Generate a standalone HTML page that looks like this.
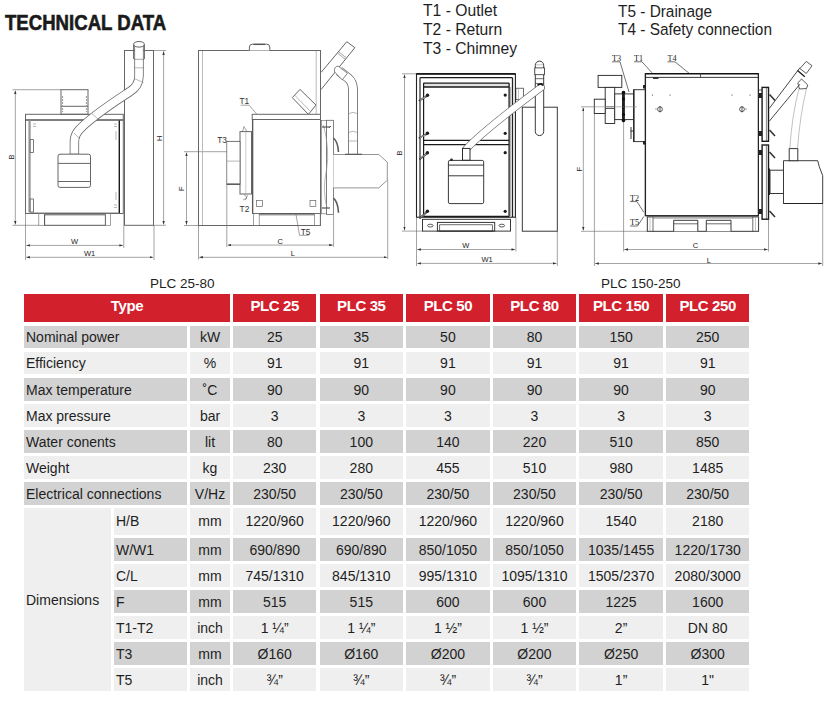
<!DOCTYPE html>
<html><head><meta charset="utf-8">
<style>
*{margin:0;padding:0;box-sizing:border-box}
html,body{width:828px;height:701px;background:#fff;overflow:hidden}
body{position:relative;font-family:"Liberation Sans",sans-serif;color:#1e1e1e}
.a{position:absolute;white-space:nowrap}
.c{position:absolute;font-size:14px;line-height:22px;text-align:center;white-space:nowrap}
.d{background:#d2d2d2}
.l{background:#efefef}
.h{position:absolute;background:#d3202d;color:#fff;font-weight:bold;font-size:15px;letter-spacing:-0.4px;text-align:center;line-height:24.4px;top:294px;height:28px}
.lbl{text-align:left;padding-left:2px}
#draw{position:absolute;left:0;top:0}
</style></head><body>

<div class="a" id="title" style="left:4.8px;top:9.8px;font-size:21.3px;font-weight:bold;line-height:26px;transform:scaleX(0.873);transform-origin:0 0;color:#1a1a1a;-webkit-text-stroke:0.6px #1a1a1a">TECHNICAL DATA</div>

<div class="a" style="left:423.3px;top:1.1px;font-size:16.5px;line-height:19.15px;transform:scaleX(0.95);transform-origin:0 0">T1 - Outlet<br>T2 - Return<br>T3 - Chimney</div>
<div class="a" style="left:618px;top:1.7px;font-size:16.3px;line-height:18px;transform:scaleX(0.945);transform-origin:0 0">T5 - Drainage<br>T4 - Safety connection</div>

<div class="a" style="left:150px;top:276px;font-size:13.5px;line-height:16px">PLC 25-80</div>
<div class="a" style="left:601px;top:276px;font-size:13.5px;line-height:16px">PLC 150-250</div>

<svg id="draw" width="828" height="275" viewBox="0 0 828 275" style="position:absolute;left:0;top:0">
<defs>
<marker id="ar" viewBox="0 0 6 4" refX="6" refY="2" markerWidth="3.6" markerHeight="2.4" markerUnits="userSpaceOnUse" orient="auto-start-reverse"><path d="M0,0 L6,2 L0,4z" fill="#333"/></marker>
</defs>
<g fill="none" stroke="#2e2e2e" stroke-width="0.95" font-family="Liberation Sans, sans-serif">

<g stroke="#666" stroke-width="1">
<!-- ===== DRAWING 1: front PLC 25-80 ===== -->
<!-- dimension lines -->
<g stroke="#666" stroke-width="0.6">
<line x1="12.5" y1="89.7" x2="61" y2="89.7"/>
<line x1="12.5" y1="225.3" x2="39" y2="225.3"/>
<line x1="15.3" y1="90.5" x2="15.3" y2="224.5" marker-start="url(#ar)" marker-end="url(#ar)"/>
<line x1="154" y1="50.5" x2="166" y2="50.5"/>
<line x1="153" y1="225.3" x2="166" y2="225.3"/>
<line x1="163.6" y1="51.3" x2="163.6" y2="224.5" marker-start="url(#ar)" marker-end="url(#ar)"/>
<line x1="25.5" y1="213.5" x2="25.5" y2="260"/>
<line x1="123.8" y1="213.5" x2="123.8" y2="248"/>
<line x1="154" y1="225.3" x2="154" y2="260"/>
<line x1="26.3" y1="245.4" x2="123" y2="245.4" marker-start="url(#ar)" marker-end="url(#ar)"/>
<line x1="26.3" y1="257.3" x2="153.2" y2="257.3" marker-start="url(#ar)" marker-end="url(#ar)"/>
</g>
<g fill="#222" stroke="none" font-size="7.5px">
<text x="71" y="243.6">W</text>
<text x="84" y="255.6">W1</text>
<text transform="translate(14,159.5) rotate(-90)">B</text>
<text transform="translate(161.5,141) rotate(-90)">H</text>
</g>
<!-- hopper lid on top -->
<rect x="61" y="89.7" width="27" height="24.6"/>
<line x1="61" y1="106.3" x2="88" y2="106.3"/>
<line x1="62.6" y1="96" x2="62.6" y2="112" stroke="#999" stroke-dasharray="2 1"/>
<line x1="86.4" y1="96" x2="86.4" y2="112" stroke="#999" stroke-dasharray="2 1"/>
<!-- column -->
<rect x="124.5" y="50.5" width="29" height="174.8"/>
<!-- body -->
<rect x="25.5" y="114.3" width="97.8" height="99.2"/>
<line x1="25.5" y1="120" x2="123.3" y2="120" stroke-width="1.5" stroke="#555"/>
<rect x="28.4" y="120.5" width="2.3" height="92" fill="#9a9a9a" stroke="none"/>
<line x1="119.3" y1="120.5" x2="119.3" y2="213" stroke-width="1.4" stroke="#1a1a1a"/>
<line x1="30.8" y1="212.6" x2="119" y2="212.6" stroke="#888" stroke-width="0.6"/>
<rect x="30.2" y="139.6" width="3.3" height="12.8" fill="#fff" stroke="#5a5a5a" stroke-width="0.8"/>
<rect x="30.2" y="199" width="3.3" height="13" fill="#fff" stroke="#5a5a5a" stroke-width="0.8"/>
<g stroke="#888" stroke-width="0.6">
<line x1="33" y1="124" x2="36" y2="124"/><line x1="33" y1="126.5" x2="36" y2="126.5"/>
<line x1="114" y1="124" x2="117" y2="124"/><line x1="114" y1="126.5" x2="117" y2="126.5"/>
<line x1="114" y1="205" x2="117" y2="205"/><line x1="114" y1="207.5" x2="117" y2="207.5"/>
<line x1="116" y1="131" x2="116" y2="140"/><line x1="116" y1="192" x2="116" y2="200"/>
</g>
<!-- feet / base -->
<rect x="38.8" y="213.5" width="5.6" height="11.8" stroke="#777" stroke-width="0.7"/>
<rect x="44.6" y="214.8" width="60.8" height="10.5" stroke="#555"/>
<rect x="105.4" y="213.5" width="5.2" height="11.8" stroke="#777" stroke-width="0.7"/>
<!-- burner box -->
<rect x="58" y="154.2" width="32.5" height="33.2" rx="2" fill="#fff"/>
<line x1="58" y1="163.4" x2="90.5" y2="163.4"/>
<line x1="58" y1="181.5" x2="90.5" y2="181.5"/>
<!-- pipe -->
<path d="M139,46 L139,76 Q139,86 130,91.5 C115,101.5 92,116 79,130 Q74.4,135 74.4,142 L74.4,154" stroke="#666" stroke-width="9.4"/>
<path d="M139,46 L139,76 Q139,86 130,91.5 C115,101.5 92,116 79,130 Q74.4,135 74.4,142 L74.4,153.4" stroke="#fff" stroke-width="7.8"/>
<line x1="133.8" y1="59.3" x2="144.2" y2="59.3" stroke="#666" stroke-width="0.6"/>
<line x1="133.8" y1="67.8" x2="144.2" y2="67.8" stroke="#888" stroke-width="0.6"/>
<line x1="134" y1="78.5" x2="143.5" y2="82.5" stroke="#888" stroke-width="0.6"/>
<line x1="74" y1="133" x2="80" y2="139" stroke="#888" stroke-width="0.6"/>
<line x1="91.6" y1="113.4" x2="98" y2="119" stroke="#888" stroke-width="0.6"/>
<ellipse cx="139" cy="44.3" rx="5.4" ry="2.8" fill="#fff"/>
<path d="M133.6,44.3 L133.6,59 M144.4,44.3 L144.4,59"/>

<!-- ===== DRAWING 2: side PLC 25-80 ===== -->
<g stroke="#666" stroke-width="0.6">
<line x1="184" y1="151.7" x2="241" y2="151.7"/>
<line x1="184" y1="225.5" x2="199" y2="225.5"/>
<line x1="186.5" y1="152.5" x2="186.5" y2="224.7" marker-start="url(#ar)" marker-end="url(#ar)"/>
<line x1="198.5" y1="225.5" x2="198.5" y2="259.5"/>
<line x1="226.8" y1="184" x2="226.8" y2="247"/>
<line x1="333.6" y1="214.5" x2="333.6" y2="247"/>
<line x1="387.7" y1="180" x2="387.7" y2="259"/>
<line x1="227.6" y1="245.1" x2="332.8" y2="245.1" marker-start="url(#ar)" marker-end="url(#ar)"/>
<line x1="199.3" y1="257.3" x2="387.2" y2="257.3" marker-start="url(#ar)" marker-end="url(#ar)"/>
<path d="M226.8,141.4 L240,141.4"/>
<path d="M240.7,105.2 L249.2,105.2 L256.8,114.2"/>
<path d="M245.5,200 L247.5,195"/>
<path d="M296,214.5 L299.5,235.3 L308.6,235.3"/>
</g>
<g fill="#222" stroke="none" font-size="7.5px">
<text x="277.5" y="243.8">C</text>
<text x="290.8" y="255.8">L</text>
<g font-size="8.3px" fill="#333"><text x="239.4" y="104.2">T1</text>
<text x="217.2" y="142.8">T3</text>
<text x="239.6" y="212">T2</text>
<text x="300.8" y="235.2">T5</text></g>
<text transform="translate(184.3,191) rotate(-90)">F</text>
</g>
<!-- hopper -->
<rect x="198.5" y="50.5" width="122" height="175"/>
<line x1="202.5" y1="51" x2="202.5" y2="225" stroke="#aaa" stroke-width="0.8"/>
<line x1="316.2" y1="51" x2="316.2" y2="114" stroke="#aaa" stroke-width="0.8"/>
<path d="M249.4,50.5 L249.4,47 Q249.4,44.2 252.5,44.2 L266.6,44.2 Q269.8,44.2 269.8,47 L269.8,50.5" fill="#fff"/>
<line x1="253.4" y1="44.4" x2="265.2" y2="44.4" stroke="#555" stroke-width="1.3"/>
<path d="M300,89.4 L316,105.1 L308.4,114.4 L292.3,97.6 Z" fill="#fff"/>
<line x1="294.5" y1="95" x2="310.5" y2="111.5" stroke="#888" stroke-width="0.6"/>
<!-- auger tube -->
<path d="M321,72.5 L346.8,41.7 L354.8,47.7 L321,89.6" fill="#fff"/>
<line x1="337.5" y1="53" x2="345" y2="59" stroke="#666" stroke-width="0.6"/>
<line x1="338.5" y1="51.6" x2="346" y2="57.6" stroke="#666" stroke-width="0.6"/>
<!-- hose -->
<path d="M339,71 L348,78 Q353,82 353,90 L353,154" stroke="#666" stroke-width="9.8"/>
<path d="M339,71 L348,78 Q353,82 353,90 L353,154" stroke="#fff" stroke-width="8.2"/>
<path d="M334.6,72 Q333.5,67 338,66 L347.5,73.3 L342.2,79.8 Z" fill="#fff" stroke-width="0.8"/>
<g stroke="#888" stroke-width="0.6">
<path d="M348.9,113.6 Q353,111 357.1,113.6"/>
<path d="M348.9,132.4 Q353,130 357.1,132.4"/>
<line x1="348.9" y1="141" x2="357.1" y2="141"/>
</g>
<!-- body -->
<rect x="252.2" y="114.3" width="68.3" height="5.2" fill="#fff"/>
<rect x="252.6" y="119.5" width="67.9" height="94" fill="#fff"/>
<line x1="252.6" y1="119.5" x2="252.6" y2="213.5" stroke="#5a5a5a" stroke-width="1.3"/>
<line x1="252.6" y1="213.5" x2="320.5" y2="213.5" stroke="#5a5a5a" stroke-width="1.1"/>
<rect x="256.4" y="200.6" width="6.2" height="5.8" stroke-width="0.7"/>
<rect x="310" y="200.6" width="5.8" height="5.8" stroke-width="0.7"/>
<!-- legs -->
<rect x="253.6" y="213.6" width="5.6" height="12" stroke="#777" stroke-width="0.7"/>
<rect x="314.4" y="213.6" width="5.8" height="12" stroke="#777" stroke-width="0.7"/>
<line x1="259.2" y1="214.8" x2="314.4" y2="214.8"/>
<line x1="259.2" y1="225.5" x2="314.4" y2="225.5"/>
<!-- flue / flange -->
<rect x="240" y="131.6" width="11.5" height="62.4" fill="#fff"/>
<line x1="245.8" y1="131.6" x2="245.8" y2="194" stroke="#999" stroke-width="0.5"/>
<rect x="226.8" y="141.4" width="13.2" height="42.8" fill="#fff" stroke="#555" stroke-width="0.7"/>
<line x1="226.8" y1="161.1" x2="240" y2="161.1" stroke="#888" stroke-width="0.6"/>
<line x1="226.8" y1="184.2" x2="240" y2="184.2" stroke="#555" stroke-width="1.4"/>
<path d="M242.5,131.6 L244,126.5 L247,131.6" stroke-width="0.6"/>
<path d="M244,194 L247,198 L243,200" stroke-width="0.6"/>
<!-- door / burner plate -->
<rect x="321.4" y="120.3" width="5.1" height="93.5" stroke="#666" stroke-width="0.6" fill="#fff"/>
<rect x="326.5" y="120.3" width="6.9" height="94.1" fill="#fff" stroke-width="0.8"/>
<path d="M323.5,125 Q330,150 326.5,170 Q322,190 327,208" stroke="#888" stroke-width="0.6"/>
<path d="M331,126 L330,127 L329,128" stroke="#555"/>
<line x1="322" y1="127" x2="330" y2="127" stroke="#555" stroke-width="1.2"/>
<line x1="322" y1="208" x2="330" y2="208" stroke="#555" stroke-width="1.2"/>
<path d="M333.4,138 Q338,142 338.5,152" stroke="#5a5a5a" stroke-width="1.6"/>
<path d="M333.4,198.2 Q338,202 338.5,212.7" stroke="#5a5a5a" stroke-width="1.6"/>
<!-- burner -->
<path d="M333.4,154.5 L378.8,154.5 L387.3,162.2 L387.3,180.2 L378.8,187.9 L333.4,187.9" fill="#fff" stroke="#666" stroke-width="0.7"/>
<line x1="345" y1="154.3" x2="362" y2="154.3" stroke="#5a5a5a" stroke-width="1.2"/>


</g>
<!-- ===== DRAWING 3: front PLC 150-250 ===== -->
<g stroke="#666" stroke-width="0.6">
<line x1="402" y1="73.8" x2="416.5" y2="73.8"/>
<line x1="402" y1="231.1" x2="422.5" y2="231.1"/>
<line x1="404.5" y1="74.6" x2="404.5" y2="230.3" marker-start="url(#ar)" marker-end="url(#ar)"/>
<line x1="416.5" y1="217" x2="416.5" y2="266"/>
<line x1="515.9" y1="217" x2="515.9" y2="251.5"/>
<line x1="557.3" y1="231.2" x2="557.3" y2="266"/>
<line x1="417.3" y1="249.5" x2="515.1" y2="249.5" marker-start="url(#ar)" marker-end="url(#ar)"/>
<line x1="417.3" y1="263.4" x2="556.5" y2="263.4" marker-start="url(#ar)" marker-end="url(#ar)"/>
</g>
<g fill="#222" stroke="none" font-size="7.5px">
<text x="462.3" y="247.6">W</text>
<text x="481.5" y="262.2">W1</text>
<text transform="translate(402.2,155.5) rotate(-90)">B</text>
</g>
<!-- hopper box right -->
<rect x="522.3" y="107.2" width="35" height="124"/>
<!-- bracket -->
<rect x="515.9" y="88.2" width="7.7" height="11.5" stroke-width="0.7"/>
<line x1="518.5" y1="88.2" x2="518.5" y2="99.7" stroke-width="0.5" stroke="#888"/>
<!-- body -->
<rect x="416.5" y="73.8" width="98.9" height="143.4" fill="#fff" stroke="#222" stroke-width="1.1"/>
<line x1="416.5" y1="73.9" x2="515.4" y2="73.9" stroke="#1a1a1a" stroke-width="1.6"/>
<line x1="419.8" y1="77.7" x2="512.5" y2="77.7" stroke="#1a1a1a" stroke-width="1.3"/>
<line x1="420" y1="77.7" x2="420" y2="217" stroke="#555" stroke-width="1.5"/>
<line x1="512.5" y1="77.7" x2="512.5" y2="217" stroke="#222" stroke-width="1.3"/>
<!-- doors -->
<rect x="423.5" y="83.1" width="85.6" height="4" fill="#e2e2e2" stroke="none"/>
<line x1="423.5" y1="83.1" x2="509.1" y2="83.1" stroke="#1a1a1a" stroke-width="1.1"/>
<line x1="423.5" y1="87.1" x2="509.1" y2="87.1" stroke="#1a1a1a" stroke-width="1.5"/>
<line x1="423.6" y1="83.1" x2="423.6" y2="216.5" stroke="#1a1a1a" stroke-width="1.2"/>
<line x1="509.1" y1="83.1" x2="509.1" y2="216.5" stroke="#1a1a1a" stroke-width="1.3"/>
<line x1="510.6" y1="87" x2="510.6" y2="216" stroke="#777" stroke-width="0.6"/>
<line x1="423.6" y1="140.4" x2="509.1" y2="140.4" stroke="#1a1a1a" stroke-width="1.3"/>
<line x1="423.6" y1="144.7" x2="509.1" y2="144.7" stroke="#1a1a1a" stroke-width="1.3"/>
<line x1="423.6" y1="216.5" x2="509.1" y2="216.5" stroke="#1a1a1a" stroke-width="1.3"/>
<g fill="#1a1a1a" stroke="none">
<circle cx="427.5" cy="95.2" r="1.7"/><circle cx="427.4" cy="133.3" r="1.7"/><circle cx="427.4" cy="152.7" r="1.7"/><circle cx="427.4" cy="211.3" r="1.7"/>
<circle cx="505.2" cy="95.1" r="1.6"/><circle cx="505.2" cy="133.3" r="1.6"/><circle cx="505.2" cy="152.7" r="1.6"/><circle cx="505.2" cy="211.3" r="1.6"/>
</g>
<g stroke="#333" stroke-width="1.8" stroke-linecap="round">
<line x1="426.5" y1="96.2" x2="419.5" y2="100.5"/><line x1="426.5" y1="134.3" x2="419.5" y2="137.8"/>
<line x1="426.5" y1="153.7" x2="420" y2="159"/><line x1="426.5" y1="212.3" x2="420" y2="218"/>
</g>
<g stroke="#fff" stroke-width="0.6" stroke-linecap="round">
<line x1="425.5" y1="96.9" x2="420.3" y2="100.1"/><line x1="425.5" y1="135" x2="420.3" y2="137.4"/>
<line x1="425.5" y1="154.5" x2="420.8" y2="158.4"/><line x1="425.5" y1="213.1" x2="420.8" y2="217.4"/>
</g>
<!-- base -->
<rect x="422.5" y="219.3" width="88" height="11.8"/>
<rect x="437.4" y="222.4" width="57.3" height="8.7"/>
<rect x="439.7" y="224.8" width="52.6" height="6.3" stroke-width="0.7"/>
<ellipse cx="430.3" cy="225.6" rx="2.8" ry="1.4" stroke-width="0.8"/>
<ellipse cx="501.8" cy="225.6" rx="2.8" ry="1.4" stroke-width="0.8"/>
<!-- burner box -->
<rect x="448.4" y="160.4" width="35.3" height="43.2" rx="1.5" fill="#fff"/>
<line x1="448.4" y1="165.1" x2="483.7" y2="165.1"/>
<line x1="448.4" y1="175.8" x2="483.7" y2="175.8"/>
<circle cx="451.5" cy="159.8" r="1.3" fill="#222" stroke="none"/>
<!-- auger vertical -->
<rect x="535.3" y="61.1" width="8.4" height="74.5" rx="4.2" fill="#fff"/>
<rect x="534.8" y="67.9" width="9.6" height="6.8" fill="#fff" stroke-width="0.8"/>
<line x1="535.3" y1="78.7" x2="543.7" y2="78.7" stroke-width="0.7"/>
<line x1="535.3" y1="83.5" x2="543.7" y2="83.5" stroke-width="0.7"/>
<line x1="535.3" y1="64.8" x2="543.7" y2="64.8" stroke-width="0.5" stroke="#888"/>

<!-- hose -->
<path d="M466.3,149 Q481.8,131.9 541,87.5" stroke="#666" stroke-width="7.6" stroke-linecap="round"/>
<path d="M466.3,149 Q481.8,131.9 541,87.5" stroke="#fff" stroke-width="6.2" stroke-linecap="round"/>
<rect x="462.5" y="148.4" width="7.5" height="11.8" fill="#fff" stroke="#222"/>
<path d="M537.5,85 L541,83.8 L543,85.5" stroke="#111" stroke-width="1.6"/>
<!-- ===== DRAWING 4: side PLC 150-250 ===== -->
<g stroke="#666" stroke-width="0.6">
<line x1="581" y1="106.8" x2="637" y2="106.8"/>
<line x1="581" y1="231.3" x2="647.3" y2="231.3"/>
<line x1="583.3" y1="107.6" x2="583.3" y2="230.5" marker-start="url(#ar)" marker-end="url(#ar)"/>
<line x1="594.4" y1="113.5" x2="594.4" y2="266"/>
<line x1="623.6" y1="121.3" x2="623.6" y2="251.5"/>
<line x1="768.5" y1="219" x2="768.5" y2="251.5"/>
<line x1="822.7" y1="203.5" x2="822.7" y2="266"/>
<line x1="624.4" y1="249.5" x2="767.7" y2="249.5" marker-start="url(#ar)" marker-end="url(#ar)"/>
<line x1="595.2" y1="263.5" x2="821.9" y2="263.5" marker-start="url(#ar)" marker-end="url(#ar)"/>
<g stroke="#333" stroke-width="0.7">
<path d="M612,61.8 L620,61.8 L629,92"/>
<path d="M634,61.8 L642,61.8 L652,72.8"/>
<path d="M667.5,61.8 L675,61.8 L689,73.2"/>
<path d="M630,201.6 L637,201.6 L643.8,212.3"/>
<path d="M630,226 L637.5,226 L643.8,216.5"/>
</g>
</g>
<g fill="#222" stroke="none" font-size="8.2px" font-family="Liberation Serif, serif">
<text x="612" y="60.8">T3</text>
<text x="634" y="60.8">T1</text>
<text x="667.5" y="60.8">T4</text>
<text x="630" y="200.8">T2</text>
<text x="630" y="225.3">T5</text>
</g>
<g fill="#222" stroke="none" font-size="7.5px">
<text x="692.8" y="247.8">C</text>
<text x="706.8" y="262.8">L</text>
<text transform="translate(581.5,171.5) rotate(-90)">F</text>
</g>
<!-- fan / flue -->
<rect x="598.1" y="75.4" width="23.7" height="12" fill="#fff"/>
<rect x="605.2" y="87.4" width="9.5" height="36.1" fill="#fff"/>
<line x1="605.2" y1="106.8" x2="614.7" y2="106.8" stroke-width="0.6"/>
<line x1="605.2" y1="108.5" x2="614.7" y2="108.5" stroke-width="0.8"/>
<rect x="594.3" y="99.2" width="10.9" height="14.3" fill="#fff"/>
<rect x="614.7" y="93.9" width="18.8" height="25.7" fill="#fff"/>
<rect x="622" y="91.4" width="2.9" height="29.9" fill="#222" stroke="none"/>
<g fill="#111" stroke="none"><circle cx="623.5" cy="92.5" r="1.8"/><circle cx="623.5" cy="99" r="1.6"/><circle cx="623.5" cy="106.8" r="1.6"/><circle cx="623.5" cy="114.5" r="1.6"/><circle cx="623.5" cy="120.5" r="1.8"/></g>
<rect x="633.5" y="89.7" width="12" height="51.9" fill="#fff"/>
<line x1="634" y1="89.7" x2="634" y2="141.6" stroke="#222" stroke-width="1.2"/>
<path d="M631,127 L631,139 M630.5,131 L633,131" stroke="#333" stroke-width="1"/>
<!-- body -->
<rect x="645.2" y="73.5" width="113.3" height="142.2" fill="#fff"/>
<line x1="645.2" y1="73.8" x2="758.5" y2="73.8" stroke="#111" stroke-width="1.5"/>
<line x1="645.2" y1="77.4" x2="758.5" y2="77.4" stroke="#222" stroke-width="0.9"/>
<line x1="645.5" y1="73.5" x2="645.5" y2="215.7" stroke="#222" stroke-width="1.1"/>
<line x1="758.3" y1="73.5" x2="758.3" y2="215.7" stroke="#222" stroke-width="1.1"/>
<line x1="645.2" y1="215.7" x2="758.5" y2="215.7" stroke="#222" stroke-width="1.1"/>
<line x1="700.5" y1="73" x2="700.5" y2="77" stroke-width="0.8"/>
<path d="M653,78.2 L658.5,78.2" stroke="#111" stroke-width="1.3"/>
<g fill="#333" stroke="none">
<circle cx="652.5" cy="95" r="0.6"/><circle cx="670" cy="95" r="0.6"/><circle cx="732" cy="95" r="0.6"/><circle cx="750" cy="95" r="0.6"/>
<circle cx="656" cy="109" r="0.6"/><circle cx="746" cy="109" r="0.6"/>
</g>
<g stroke="#333" stroke-width="0.8"><circle cx="660" cy="109.2" r="2.4"/><line x1="660" y1="106" x2="660" y2="112.4"/>
<circle cx="742" cy="109.2" r="2.4"/><line x1="742" y1="106" x2="742" y2="112.4"/></g>
<g fill="#222" stroke="none"><rect x="643" y="85" width="3" height="3.5"/><rect x="643" y="141" width="3" height="3.5"/></g>
<!-- base -->
<rect x="647.3" y="216.9" width="111.3" height="14.4"/>
<line x1="653" y1="216.9" x2="653" y2="231.3" stroke-width="0.7"/>
<line x1="650" y1="216.9" x2="650" y2="231.3" stroke-width="0.5" stroke="#888"/>
<line x1="752.8" y1="216.9" x2="752.8" y2="231.3" stroke-width="0.7"/>
<line x1="755.5" y1="216.9" x2="755.5" y2="231.3" stroke-width="0.5" stroke="#888"/>
<line x1="653" y1="218.5" x2="752.8" y2="218.5" stroke-width="0.5" stroke="#888"/>
<path d="M673.7,231.3 L673.7,220.3 L697.8,220.3 L697.8,231.3" fill="#fff"/>
<line x1="673.7" y1="223.8" x2="697.8" y2="223.8" stroke-width="0.7"/>
<path d="M706.3,231.3 L706.3,220.3 L731,220.3 L731,231.3" fill="#fff"/>
<line x1="706.3" y1="223.8" x2="731" y2="223.8" stroke-width="0.7"/>
<!-- doors right -->
<rect x="762.1" y="87.4" width="6.4" height="53.9" fill="#fff" stroke="#1a1a1a" stroke-width="1.4"/>
<line x1="766.4" y1="87.4" x2="766.4" y2="141.3" stroke-width="0.6"/>
<rect x="762.1" y="145" width="6.4" height="74.2" fill="#fff" stroke="#1a1a1a" stroke-width="1.4"/>
<line x1="766.4" y1="145" x2="766.4" y2="219.2" stroke-width="0.6"/>
<line x1="758.5" y1="90" x2="762" y2="90" stroke-width="0.8"/>
<g stroke="#333" stroke-width="1.6">
<line x1="769.5" y1="94.5" x2="775" y2="100.5"/><line x1="769.5" y1="130" x2="775" y2="136"/>
<line x1="769.5" y1="152" x2="775" y2="158"/><line x1="769.5" y1="211" x2="775" y2="217"/>
</g>
<g fill="#222" stroke="none"><rect x="759" y="93" width="3" height="5"/><rect x="759" y="131" width="3" height="5"/><rect x="759" y="150" width="3" height="5"/><rect x="759" y="209" width="3" height="5"/></g>
<line x1="769.2" y1="168.5" x2="769.2" y2="194.9" stroke="#111" stroke-width="1.4"/>
<!-- burner -->
<rect x="770" y="170.2" width="13.5" height="23.3" fill="#fff"/>
<path d="M783.5,160.7 L817.7,160.7 L819.2,166.4 L822.7,175.7 L822.7,203.5 L783.5,203.5 Z" fill="#fff" stroke="#333"/>
<line x1="783.5" y1="203.5" x2="822.7" y2="203.5" stroke="#222" stroke-width="1.2"/>
<rect x="789.2" y="148.6" width="8.6" height="12.1" fill="#fff"/>
<!-- hose -->
<path d="M789.8,148.6 Q792,115 799,88.5 M797.5,148.6 Q800,115 806.5,88.5" stroke="#999" stroke-width="0.6"/>
<path d="M797.8,83 L801.5,79 L807.8,85 L806.5,88.5 L799.5,89 Z" fill="#fff" stroke="#333" stroke-width="0.8"/>
<!-- auger diagonal -->
<path d="M769.2,108.5 L799.9,67.8 M769.2,121.3 L799.9,84.2" stroke="#333" stroke-width="0.9"/>
<path d="M799.9,68.5 L806.3,61.4 L812,65.7 L806.3,73.5 Z" fill="#fff" stroke="#333" stroke-width="0.8"/>
<line x1="797.5" y1="70.5" x2="804.8" y2="76.8" stroke="#222" stroke-width="1.4"/>

<line x1="594" y1="106.8" x2="637" y2="106.8" stroke="#888" stroke-width="0.6"/>
</g>
</svg>

<!-- TABLE -->
<div class="h" style="left:24px;width:206px">Type</div>
<div class="h" style="left:233.0px;width:83.4px">PLC 25</div>
<div class="h" style="left:319.6px;width:83.4px">PLC 35</div>
<div class="h" style="left:406.2px;width:83.4px">PLC 50</div>
<div class="h" style="left:492.8px;width:83.4px">PLC 80</div>
<div class="h" style="left:579.4px;width:83.4px">PLC 150</div>
<div class="h" style="left:666.0px;width:83.4px">PLC 250</div>
<div class="c d lbl" style="left:24.0px;top:326px;width:163.0px;height:22px;line-height:22px">Nominal power</div>
<div class="c d" style="left:190.0px;top:326px;width:40.0px;height:22px;line-height:22px">kW</div>
<div class="c d" style="left:233.0px;top:326px;width:83.4px;height:22px;line-height:22px">25</div>
<div class="c d" style="left:319.6px;top:326px;width:83.4px;height:22px;line-height:22px">35</div>
<div class="c d" style="left:406.2px;top:326px;width:83.4px;height:22px;line-height:22px">50</div>
<div class="c d" style="left:492.8px;top:326px;width:83.4px;height:22px;line-height:22px">80</div>
<div class="c d" style="left:579.4px;top:326px;width:83.4px;height:22px;line-height:22px">150</div>
<div class="c d" style="left:666.0px;top:326px;width:83.4px;height:22px;line-height:22px">250</div>
<div class="c l lbl" style="left:24.0px;top:352px;width:163.0px;height:22px;line-height:22px">Efficiency</div>
<div class="c l" style="left:190.0px;top:352px;width:40.0px;height:22px;line-height:22px">%</div>
<div class="c l" style="left:233.0px;top:352px;width:83.4px;height:22px;line-height:22px">91</div>
<div class="c l" style="left:319.6px;top:352px;width:83.4px;height:22px;line-height:22px">91</div>
<div class="c l" style="left:406.2px;top:352px;width:83.4px;height:22px;line-height:22px">91</div>
<div class="c l" style="left:492.8px;top:352px;width:83.4px;height:22px;line-height:22px">91</div>
<div class="c l" style="left:579.4px;top:352px;width:83.4px;height:22px;line-height:22px">91</div>
<div class="c l" style="left:666.0px;top:352px;width:83.4px;height:22px;line-height:22px">91</div>
<div class="c d lbl" style="left:24.0px;top:378px;width:163.0px;height:23px;line-height:24.4px">Max temperature</div>
<div class="c d" style="left:190.0px;top:378px;width:40.0px;height:23px;line-height:24.4px">&#730;C</div>
<div class="c d" style="left:233.0px;top:378px;width:83.4px;height:23px;line-height:24.4px">90</div>
<div class="c d" style="left:319.6px;top:378px;width:83.4px;height:23px;line-height:24.4px">90</div>
<div class="c d" style="left:406.2px;top:378px;width:83.4px;height:23px;line-height:24.4px">90</div>
<div class="c d" style="left:492.8px;top:378px;width:83.4px;height:23px;line-height:24.4px">90</div>
<div class="c d" style="left:579.4px;top:378px;width:83.4px;height:23px;line-height:24.4px">90</div>
<div class="c d" style="left:666.0px;top:378px;width:83.4px;height:23px;line-height:24.4px">90</div>
<div class="c l lbl" style="left:24.0px;top:404px;width:163.0px;height:23px;line-height:25.4px">Max pressure</div>
<div class="c l" style="left:190.0px;top:404px;width:40.0px;height:23px;line-height:25.4px">bar</div>
<div class="c l" style="left:233.0px;top:404px;width:83.4px;height:23px;line-height:25.4px">3</div>
<div class="c l" style="left:319.6px;top:404px;width:83.4px;height:23px;line-height:25.4px">3</div>
<div class="c l" style="left:406.2px;top:404px;width:83.4px;height:23px;line-height:25.4px">3</div>
<div class="c l" style="left:492.8px;top:404px;width:83.4px;height:23px;line-height:25.4px">3</div>
<div class="c l" style="left:579.4px;top:404px;width:83.4px;height:23px;line-height:25.4px">3</div>
<div class="c l" style="left:666.0px;top:404px;width:83.4px;height:23px;line-height:25.4px">3</div>
<div class="c d lbl" style="left:24.0px;top:430px;width:163.0px;height:23px;line-height:25.4px">Water conents</div>
<div class="c d" style="left:190.0px;top:430px;width:40.0px;height:23px;line-height:25.4px">lit</div>
<div class="c d" style="left:233.0px;top:430px;width:83.4px;height:23px;line-height:25.4px">80</div>
<div class="c d" style="left:319.6px;top:430px;width:83.4px;height:23px;line-height:25.4px">100</div>
<div class="c d" style="left:406.2px;top:430px;width:83.4px;height:23px;line-height:25.4px">140</div>
<div class="c d" style="left:492.8px;top:430px;width:83.4px;height:23px;line-height:25.4px">220</div>
<div class="c d" style="left:579.4px;top:430px;width:83.4px;height:23px;line-height:25.4px">510</div>
<div class="c d" style="left:666.0px;top:430px;width:83.4px;height:23px;line-height:25.4px">850</div>
<div class="c l lbl" style="left:24.0px;top:456px;width:163.0px;height:23px;line-height:25.4px">Weight</div>
<div class="c l" style="left:190.0px;top:456px;width:40.0px;height:23px;line-height:25.4px">kg</div>
<div class="c l" style="left:233.0px;top:456px;width:83.4px;height:23px;line-height:25.4px">230</div>
<div class="c l" style="left:319.6px;top:456px;width:83.4px;height:23px;line-height:25.4px">280</div>
<div class="c l" style="left:406.2px;top:456px;width:83.4px;height:23px;line-height:25.4px">455</div>
<div class="c l" style="left:492.8px;top:456px;width:83.4px;height:23px;line-height:25.4px">510</div>
<div class="c l" style="left:579.4px;top:456px;width:83.4px;height:23px;line-height:25.4px">980</div>
<div class="c l" style="left:666.0px;top:456px;width:83.4px;height:23px;line-height:25.4px">1485</div>
<div class="c d lbl" style="left:24.0px;top:482px;width:163.0px;height:23px;line-height:25.4px">Electrical connections</div>
<div class="c d" style="left:190.0px;top:482px;width:40.0px;height:23px;line-height:25.4px">V/Hz</div>
<div class="c d" style="left:233.0px;top:482px;width:83.4px;height:23px;line-height:25.4px">230/50</div>
<div class="c d" style="left:319.6px;top:482px;width:83.4px;height:23px;line-height:25.4px">230/50</div>
<div class="c d" style="left:406.2px;top:482px;width:83.4px;height:23px;line-height:25.4px">230/50</div>
<div class="c d" style="left:492.8px;top:482px;width:83.4px;height:23px;line-height:25.4px">230/50</div>
<div class="c d" style="left:579.4px;top:482px;width:83.4px;height:23px;line-height:25.4px">230/50</div>
<div class="c d" style="left:666.0px;top:482px;width:83.4px;height:23px;line-height:25.4px">230/50</div>
<div class="c l lbl" style="left:24px;top:508px;width:87px;height:183px;line-height:185px">Dimensions</div>
<div class="c l lbl" style="left:114.0px;top:508px;width:73.0px;height:27px;line-height:27px">H/B</div>
<div class="c l" style="left:190.0px;top:508px;width:40.0px;height:27px;line-height:27px">mm</div>
<div class="c l" style="left:233.0px;top:508px;width:83.4px;height:27px;line-height:27px">1220/960</div>
<div class="c l" style="left:319.6px;top:508px;width:83.4px;height:27px;line-height:27px">1220/960</div>
<div class="c l" style="left:406.2px;top:508px;width:83.4px;height:27px;line-height:27px">1220/960</div>
<div class="c l" style="left:492.8px;top:508px;width:83.4px;height:27px;line-height:27px">1220/960</div>
<div class="c l" style="left:579.4px;top:508px;width:83.4px;height:27px;line-height:27px">1540</div>
<div class="c l" style="left:666.0px;top:508px;width:83.4px;height:27px;line-height:27px">2180</div>
<div class="c d lbl" style="left:114.0px;top:538px;width:73.0px;height:23px;line-height:25.4px">W/W1</div>
<div class="c d" style="left:190.0px;top:538px;width:40.0px;height:23px;line-height:25.4px">mm</div>
<div class="c d" style="left:233.0px;top:538px;width:83.4px;height:23px;line-height:25.4px">690/890</div>
<div class="c d" style="left:319.6px;top:538px;width:83.4px;height:23px;line-height:25.4px">690/890</div>
<div class="c d" style="left:406.2px;top:538px;width:83.4px;height:23px;line-height:25.4px">850/1050</div>
<div class="c d" style="left:492.8px;top:538px;width:83.4px;height:23px;line-height:25.4px">850/1050</div>
<div class="c d" style="left:579.4px;top:538px;width:83.4px;height:23px;line-height:25.4px">1035/1455</div>
<div class="c d" style="left:666.0px;top:538px;width:83.4px;height:23px;line-height:25.4px">1220/1730</div>
<div class="c l lbl" style="left:114.0px;top:564px;width:73.0px;height:23px;line-height:25.4px">C/L</div>
<div class="c l" style="left:190.0px;top:564px;width:40.0px;height:23px;line-height:25.4px">mm</div>
<div class="c l" style="left:233.0px;top:564px;width:83.4px;height:23px;line-height:25.4px">745/1310</div>
<div class="c l" style="left:319.6px;top:564px;width:83.4px;height:23px;line-height:25.4px">845/1310</div>
<div class="c l" style="left:406.2px;top:564px;width:83.4px;height:23px;line-height:25.4px">995/1310</div>
<div class="c l" style="left:492.8px;top:564px;width:83.4px;height:23px;line-height:25.4px">1095/1310</div>
<div class="c l" style="left:579.4px;top:564px;width:83.4px;height:23px;line-height:25.4px">1505/2370</div>
<div class="c l" style="left:666.0px;top:564px;width:83.4px;height:23px;line-height:25.4px">2080/3000</div>
<div class="c d lbl" style="left:114.0px;top:590px;width:73.0px;height:23px;line-height:25.4px">F</div>
<div class="c d" style="left:190.0px;top:590px;width:40.0px;height:23px;line-height:25.4px">mm</div>
<div class="c d" style="left:233.0px;top:590px;width:83.4px;height:23px;line-height:25.4px">515</div>
<div class="c d" style="left:319.6px;top:590px;width:83.4px;height:23px;line-height:25.4px">515</div>
<div class="c d" style="left:406.2px;top:590px;width:83.4px;height:23px;line-height:25.4px">600</div>
<div class="c d" style="left:492.8px;top:590px;width:83.4px;height:23px;line-height:25.4px">600</div>
<div class="c d" style="left:579.4px;top:590px;width:83.4px;height:23px;line-height:25.4px">1225</div>
<div class="c d" style="left:666.0px;top:590px;width:83.4px;height:23px;line-height:25.4px">1600</div>
<div class="c l lbl" style="left:114.0px;top:616px;width:73.0px;height:23px;line-height:25.4px">T1-T2</div>
<div class="c l" style="left:190.0px;top:616px;width:40.0px;height:23px;line-height:25.4px">inch</div>
<div class="c l" style="left:233.0px;top:616px;width:83.4px;height:23px;line-height:25.4px">1 &frac14;&rdquo;</div>
<div class="c l" style="left:319.6px;top:616px;width:83.4px;height:23px;line-height:25.4px">1 &frac14;&rdquo;</div>
<div class="c l" style="left:406.2px;top:616px;width:83.4px;height:23px;line-height:25.4px">1 &frac12;&rdquo;</div>
<div class="c l" style="left:492.8px;top:616px;width:83.4px;height:23px;line-height:25.4px">1 &frac12;&rdquo;</div>
<div class="c l" style="left:579.4px;top:616px;width:83.4px;height:23px;line-height:25.4px">2&rdquo;</div>
<div class="c l" style="left:666.0px;top:616px;width:83.4px;height:23px;line-height:25.4px">DN 80</div>
<div class="c d lbl" style="left:114.0px;top:642px;width:73.0px;height:23px;line-height:25.4px">T3</div>
<div class="c d" style="left:190.0px;top:642px;width:40.0px;height:23px;line-height:25.4px">mm</div>
<div class="c d" style="left:233.0px;top:642px;width:83.4px;height:23px;line-height:25.4px">&Oslash;160</div>
<div class="c d" style="left:319.6px;top:642px;width:83.4px;height:23px;line-height:25.4px">&Oslash;160</div>
<div class="c d" style="left:406.2px;top:642px;width:83.4px;height:23px;line-height:25.4px">&Oslash;200</div>
<div class="c d" style="left:492.8px;top:642px;width:83.4px;height:23px;line-height:25.4px">&Oslash;200</div>
<div class="c d" style="left:579.4px;top:642px;width:83.4px;height:23px;line-height:25.4px">&Oslash;250</div>
<div class="c d" style="left:666.0px;top:642px;width:83.4px;height:23px;line-height:25.4px">&Oslash;300</div>
<div class="c l lbl" style="left:114.0px;top:668px;width:73.0px;height:23px;line-height:25.4px">T5</div>
<div class="c l" style="left:190.0px;top:668px;width:40.0px;height:23px;line-height:25.4px">inch</div>
<div class="c l" style="left:233.0px;top:668px;width:83.4px;height:23px;line-height:25.4px">&frac34;&rdquo;</div>
<div class="c l" style="left:319.6px;top:668px;width:83.4px;height:23px;line-height:25.4px">&frac34;&rdquo;</div>
<div class="c l" style="left:406.2px;top:668px;width:83.4px;height:23px;line-height:25.4px">&frac34;&rdquo;</div>
<div class="c l" style="left:492.8px;top:668px;width:83.4px;height:23px;line-height:25.4px">&frac34;&rdquo;</div>
<div class="c l" style="left:579.4px;top:668px;width:83.4px;height:23px;line-height:25.4px">1&rdquo;</div>
<div class="c l" style="left:666.0px;top:668px;width:83.4px;height:23px;line-height:25.4px">1&quot;</div>

</body></html>
